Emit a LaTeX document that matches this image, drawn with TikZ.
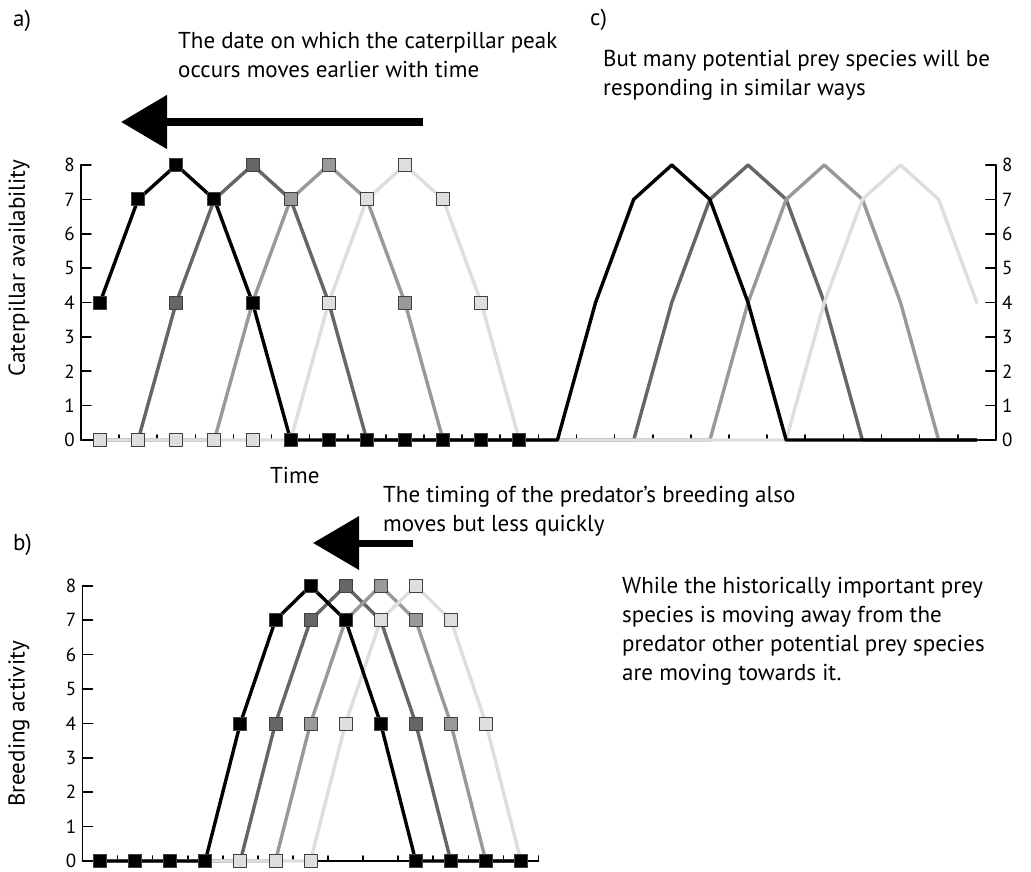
\documentclass[tikz,border=0pt]{standalone}
\usepackage{fontspec}
\setmainfont{PT Sans}
\usetikzlibrary{arrows.meta}
\definecolor{gdark}{gray}{0.40}
\definecolor{gmid}{gray}{0.60}
\definecolor{glight}{gray}{0.87}
\begin{document}
\begin{tikzpicture}[x=1pt,y=-1pt,line join=round,line cap=round,font=\fontsize{23}{29}\selectfont]
	\tikzset{txt/.style={anchor=base west,inner sep=0pt,align=left},
		ticklab/.style={font=\fontsize{19}{19}\selectfont,inner sep=0pt},
		axis/.style={line width=1.6pt},
		curve/.style={line width=3.4pt},
		mk/.style={rectangle,draw=black!75,line width=0.8pt,fill=#1,minimum size=13pt,inner sep=0pt},
		bigarrow/.style={line width=#1,line cap=butt,-{Triangle[length=46pt,width=52pt]}}}
	\useasboundingbox (0,0) rectangle (1031,871);
	% panels a and c : one time axis, 24 steps
	\begin{scope}[shift={(100,440)},x=38.12pt,y=34.375pt]
		\draw[axis] (-0.5,8) -- (-0.5,0) -- (23.5,0) -- (23.5,8);
		\foreach \t in {0,...,8}{
			\draw[axis] (-0.5,\t) -- ++(10pt,0pt);
			\draw[axis] (23.5,\t) -- ++(-10pt,0pt);
			\node[ticklab,anchor=east] (ya\t) at ([xshift=-6pt]-0.5,\t) {\t};
			\node[ticklab,anchor=west] (yc\t) at ([xshift=6pt]23.5,\t) {\t};}
		\foreach \t in {0.5,1.5,...,22.5}
		\draw[axis] (\t,0) -- ++(0pt,5pt);
		\foreach \c/\s/\vals in {gdark/d/{0,0,4,7,8,7,4,0,0,0,0,0,0,0,0,4,7,8,7,4,0,0,0,0},
			gmid/m/{0,0,0,0,4,7,8,7,4,0,0,0,0,0,0,0,0,4,7,8,7,4,0,0},
			glight/l/{0,0,0,0,0,0,4,7,8,7,4,0,0,0,0,0,0,0,0,4,7,8,7,4},
			black/k/{4,7,8,7,4,0,0,0,0,0,0,0,0,4,7,8,7,4,0,0,0,0,0,0}}{
			\foreach \v [count=\i from 0] in \vals
			\coordinate (a\s\i) at (\i,\v);
			\draw[curve,draw=\c] (a\s0) \foreach \i in {1,...,23}{-- (a\s\i)};
			\foreach \i in {0,...,11}
			\node[mk=\c] (ma\s\i) at (a\s\i) {};}
	\end{scope}
	% panel b : 13 steps
	\begin{scope}[shift={(100,861)},x=35.08pt,y=34.4pt]
		\draw[axis] (-0.5,8) -- (-0.5,0) -- (12.5,0);
		\foreach \t in {0,...,8}{
			\draw[axis] (-0.5,\t) -- ++(10pt,0pt);
			\node[ticklab,anchor=east] (yb\t) at ([xshift=-6pt]-0.5,\t) {\t};}
		\foreach \t in {0.5,1.5,...,12.5}
		\draw[axis] (\t,0) -- ++(0pt,5pt);
		\foreach \c/\s/\vals in {gdark/d/{0,0,0,0,0,4,7,8,7,4,0,0,0},
			gmid/m/{0,0,0,0,0,0,4,7,8,7,4,0,0},
			glight/l/{0,0,0,0,0,0,0,4,7,8,7,4,0},
			black/k/{0,0,0,0,4,7,8,7,4,0,0,0,0}}{
			\foreach \v [count=\i from 0] in \vals
			\coordinate (b\s\i) at (\i,\v);
			\draw[curve,draw=\c] (b\s0) \foreach \i in {1,...,12}{-- (b\s\i)};
			\foreach \i in {0,...,12}
			\node[mk=\c] (mb\s\i) at (b\s\i) {};}
	\end{scope}
	% arrows
	\coordinate (arrAend) at (423,122);
	\coordinate (arrAtip) at (121,122);
	\coordinate (arrBend) at (413,543);
	\coordinate (arrBtip) at (313,543);
	\draw[bigarrow=8pt] (arrAend) -- (arrAtip);
	\draw[bigarrow=7pt] (arrBend) -- (arrBtip);
	% texts (base = last line)
	\node[txt] (laba) at (13,26) {a)};
	\node[txt] (labc) at (590,25) {c)};
	\node[txt] (labb) at (13,550) {b)};
	\node[txt] (notea) at (178,77) {The date on which the caterpillar peak\\occurs moves earlier with time};
	\node[txt] (notec) at (603,95) {But many potential prey species will be\\responding in similar ways};
	\node[txt] (noteb) at (383,531) {The timing of the predator’s breeding also\\moves but less quickly};
	\node[txt] (noted) at (622,680) {While the historically important prey\\species is moving away from the\\predator other potential prey species\\are moving towards it.};
	\node[txt] (timelab) at (270,483) {Time};
	\node[rotate=90,inner sep=0pt] (ylaba) at (19,268) {Caterpillar availability};
	\node[rotate=90,inner sep=0pt] (ylabb) at (19,724) {Breeding activity};
\end{tikzpicture}
\end{document}
